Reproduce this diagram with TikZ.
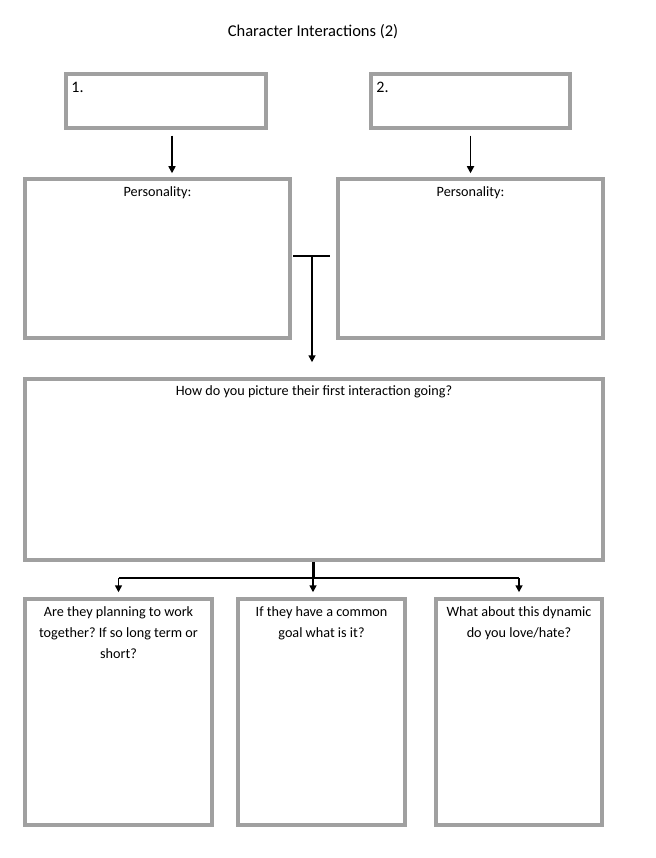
\documentclass[tikz,border=0pt]{standalone}
\usepackage{fontspec}
\setmainfont{Carlito}
\usetikzlibrary{arrows.meta}
\frenchspacing
\definecolor{boxgray}{HTML}{A0A0A0}
\tikzset{
  box/.style={draw=boxgray, line width=3.5pt, inner sep=0pt},
  prompt/.style={anchor=north, align=center, inner sep=0pt, font=\fontsize{14.2}{21}\selectfont},
  link/.style={-{Triangle[length=7pt,width=7pt]}, line width=1.6pt},
}
\begin{document}
\begin{tikzpicture}[x=1pt,y=-1pt]
\useasboundingbox (0,0) rectangle (655,858);
\node[font=\fontsize{16.5}{20}\selectfont] (title) at (313,32) {Character Interactions (2)};
% the two characters
\node[box, minimum width=200pt, minimum height=54pt] (c1) at (166,101) {};
\node[box, minimum width=199pt, minimum height=54pt] (c2) at (470.5,101) {};
\node[anchor=west, inner sep=0pt, font=\fontsize{16}{18}\selectfont] (n1) at ([xshift=7pt,yshift=-15pt]c1.north west) {1.};
\node[anchor=west, inner sep=0pt, font=\fontsize{16}{18}\selectfont] (n2) at ([xshift=7pt,yshift=-15pt]c2.north west) {2.};
% personality boxes
\node[box, minimum width=265pt, minimum height=159pt] (p1) at (157.5,258.5) {};
\node[box, minimum width=265pt, minimum height=159pt] (p2) at (470.5,258.5) {};
\node[prompt] (pl1) at ([yshift=-9pt]p1.north) {Personality:};
\node[prompt] (pl2) at ([yshift=-9pt]p2.north) {Personality:};
\draw[link, shorten <=6pt, shorten >=4pt] ([xshift=6pt]c1.south) -- ([xshift=6pt]c1.south |- p1.north);
\draw[link, shorten <=6pt, shorten >=4pt] (c2.south) -- (c2.south |- p2.north);
% first interaction
\node[box, minimum width=578pt, minimum height=181pt] (big) at (314,469.5) {};
\node[prompt] (bl) at ([yshift=-8pt]big.north) {How do you picture their first interaction going?};
\coordinate (tee) at (312,256);
\draw[line width=2pt] ([xshift=-19pt]tee) -- ([xshift=18pt]tee);
\draw[link, shorten >=15pt] (tee) -- (tee |- big.north);
% three questions
\node[box, minimum width=187pt, minimum height=226pt] (q1) at (118.5,712) {};
\node[box, minimum width=167pt, minimum height=226pt] (q2) at (321.5,712) {};
\node[box, minimum width=166pt, minimum height=226pt] (q3) at (519,712) {};
\node[prompt] (ql1) at ([yshift=-9pt]q1.north) {Are they planning to work\\together? If so long term or\\short?};
\node[prompt] (ql2) at ([yshift=-9pt]q2.north) {If they have a common\\goal what is it?};
\node[prompt] (ql3) at ([yshift=-9pt]q3.north) {What about this dynamic\\do you love/hate?};
\coordinate (split) at (313,578);
\draw[line width=3pt] (big.south -| split) -- (split);
\draw[line width=1.8pt] (split -| q1) -- (split -| q3);
\draw[link, shorten >=5pt] (split -| q1) -- (q1.north);
\draw[link, shorten >=5pt] (split) -- (split |- q2.north);
\draw[link, shorten >=5pt] (split -| q3) -- (q3.north);
\end{tikzpicture}
\end{document}
